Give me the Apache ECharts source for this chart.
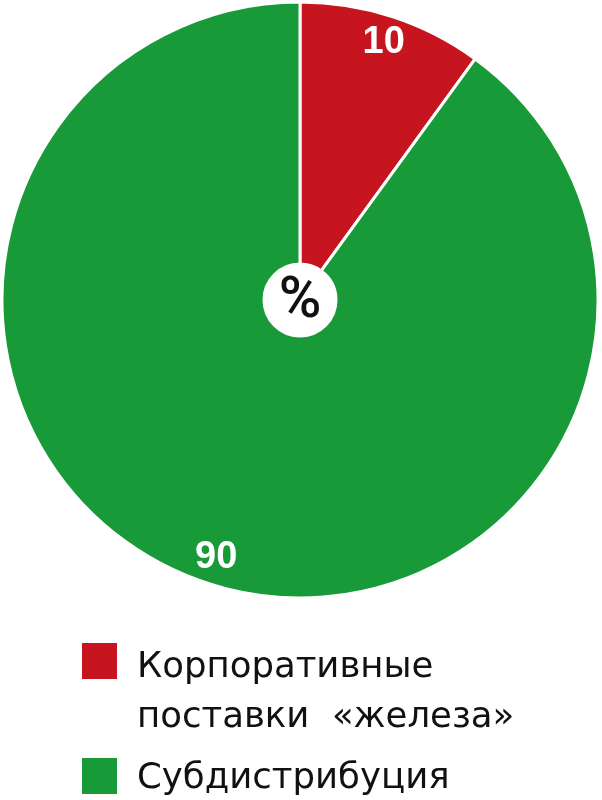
<!DOCTYPE html>
<html><head><meta charset="utf-8">
<script src="https://cdn.jsdelivr.net/npm/echarts@6/dist/echarts.min.js"></script>
<style>html,body{margin:0;padding:0;background:#fff}#c{width:602px;height:800px}</style>
</head><body><div id="c"></div>
<script>
const categories = ['Корпоративные поставки «железа»', 'Субдистрибуция'];
const legendLines = [['Корпоративные', 'поставки  «железа»'], ['Субдистрибуция']];
const values = [10, 90];
const colors = ['#C6151F', '#179A37'];
const centerText = '%';

const chart = echarts.init(document.getElementById('c'), null, {renderer: 'canvas'});
const data = categories.map((n, i) => ({name: n, value: values[i], itemStyle: {color: colors[i]}}));
const rich = {
  s: {width: 14},
  t: {fontFamily: 'DejaVu Sans', fontSize: 35.5, color: '#111', lineHeight: 50},
  p1: {fontSize: 6, lineHeight: 64},
  p2: {fontSize: 6, lineHeight: 6}
};
function legendFmt(idx, lead) {
  return '{' + lead + '| }\n' + legendLines[idx].map(l => '{s|}{t|' + l + '}').join('\n');
}
chart.setOption({
  animation: false,
  legend: [
    {data: [categories[0]], left: 80, top: 608, padding: 0, itemWidth: 37, itemHeight: 38, itemGap: 0,
     icon: 'rect', formatter: () => legendFmt(0, 'p1'), textStyle: {rich: rich}, selectedMode: false},
    {data: [categories[1]], left: 80, top: 748, padding: 0, itemWidth: 37, itemHeight: 38,
     icon: 'rect', formatter: () => legendFmt(1, 'p2'), textStyle: {rich: rich}, selectedMode: false}
  ],
  graphic: [{type: 'text', x: 300, y: 302, z: 100,
    style: {text: centerText, fontFamily: 'Roboto', fontSize: 58, fontWeight: 500, fill: '#111', align: 'center', verticalAlign: 'middle'}}],
  series: [
    {type: 'pie', center: [300, 300], radius: [36, 298], startAngle: 90, clockwise: true,
     data: data, label: {show: false}, labelLine: {show: false},
     itemStyle: {borderColor: '#fff', borderWidth: 3}, silent: true},
    {type: 'pie', center: [300, 300], radius: [36, 500], startAngle: 90, clockwise: true, silent: true,
     data: categories.map((n, i) => ({name: n, value: values[i], itemStyle: {color: 'rgba(0,0,0,0)'}})),
     label: {show: true, position: 'inside', formatter: '{c}', color: '#fff', fontFamily: 'Liberation Sans', fontWeight: 'bold', fontSize: 38},
     labelLine: {show: false}}
  ]
});
</script></body></html>
